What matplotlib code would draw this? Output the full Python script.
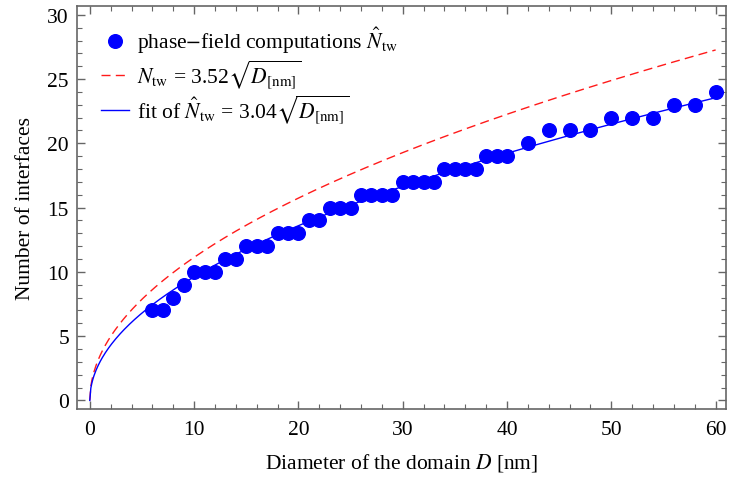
import matplotlib
matplotlib.use('Agg')
import matplotlib.pyplot as plt
import numpy as np
from matplotlib.ticker import MultipleLocator

plt.rcParams['font.family'] = 'Liberation Serif'
plt.rcParams['mathtext.fontset'] = 'stix'

# phase-field computations
diam = [6, 7, 8, 9, 10, 11, 12, 13, 14, 15, 16, 17, 18, 19, 20, 21, 22, 23, 24, 25,
        26, 27, 28, 29, 30, 31, 32, 33, 34, 35, 36, 37, 38, 39, 40,
        42, 44, 46, 48, 50, 52, 54, 56, 58, 60]
n_tw = [7, 7, 8, 9, 10, 10, 10, 11, 11, 12, 12, 12, 13, 13, 13, 14, 14, 15, 15, 15,
        16, 16, 16, 16, 17, 17, 17, 17, 18, 18, 18, 18, 19, 19, 19,
        20, 21, 21, 21, 22, 22, 22, 23, 23, 24]
coef_theory = 3.52
coef_fit = 3.04

frameCol = '#666666'
labelFont = {'family': 'Liberation Serif', 'size': 15.5}

fig, ax = plt.subplots(figsize=(7.29, 4.85), dpi=100)
fig.subplots_adjust(left=0.106, right=0.996, bottom=0.155, top=0.986)

d = np.linspace(0, 60, 600)
ax.plot(diam, n_tw, 'o', color='#0000ff', ms=9.8, mec='#0000ff',
        label=r'phase$-$field computations $\hat{N}_{\rm tw}$', zorder=3)
ax.plot(d, coef_theory * np.sqrt(d), '--', color='#ff1a1a', lw=1.0, dashes=(6.5, 3.8),
        label=r'$N_{\rm tw}$ = 3.52$\sqrt{D_{[\rm nm]}}$')
ax.plot(d, coef_fit * np.sqrt(d), '-', color='#0000ff', lw=1.0,
        label=r'fit of $\hat{N}_{\rm tw}$ = 3.04$\sqrt{D_{[\rm nm]}}$')

ax.set_xlim(-1.2, 61)
ax.set_ylim(-0.65, 30.7)
ax.xaxis.set_major_locator(MultipleLocator(10))
ax.xaxis.set_minor_locator(MultipleLocator(2))
ax.yaxis.set_major_locator(MultipleLocator(5))
ax.yaxis.set_minor_locator(MultipleLocator(1))
ax.tick_params(which='both', direction='in', top=True, right=True,
               color=frameCol, labelsize=15.5)
ax.tick_params(axis='x', pad=8)
ax.tick_params(axis='y', pad=6)
ax.tick_params(which='major', length=6, width=1)
ax.tick_params(which='minor', length=3.5, width=0.8)
for s in ax.spines.values():
    s.set_color(frameCol)
    s.set_linewidth(1.2)

ax.set_xlabel(r'Diameter of the domain $D$ [nm]', labelFont, labelpad=9)
ax.set_ylabel('Number of interfaces', labelFont, labelpad=9)

ax.legend(loc='upper left', frameon=False, prop={'family': 'Liberation Serif', 'size': 15.5},
          handlelength=1.3, handletextpad=0.35, labelspacing=0.1, markerscale=1.0,
          borderaxespad=0.0, borderpad=0.0, bbox_to_anchor=(0.037, 0.952))

fig.savefig('out.png', dpi=100)
